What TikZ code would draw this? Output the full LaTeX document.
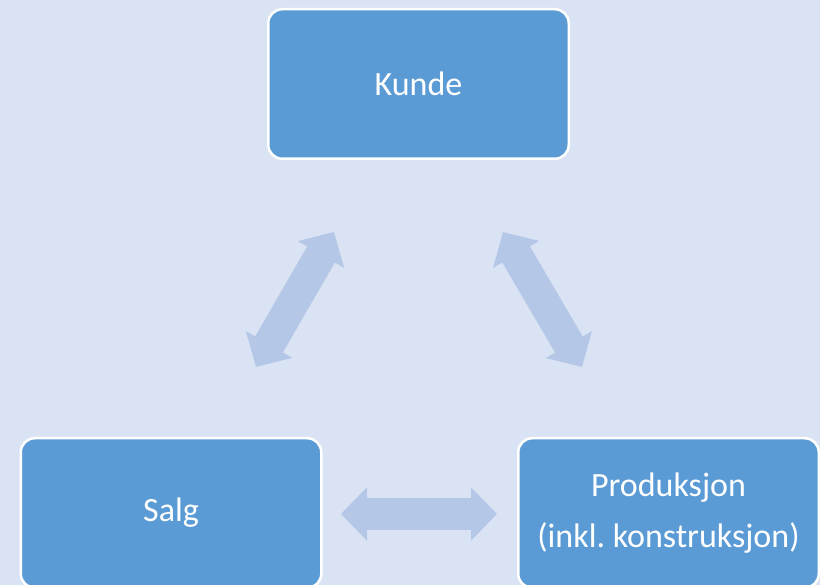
\documentclass[tikz,border=0pt]{standalone}
\usepackage{fontspec}
\setmainfont{Carlito}
\usetikzlibrary{arrows.meta}
\definecolor{bgc}{HTML}{DAE3F3}
\definecolor{boxc}{HTML}{5B9BD5}
\definecolor{arrc}{HTML}{B4C7E7}
\frenchspacing
\begin{document}
\begin{tikzpicture}[x=1pt,y=-1pt,
  box/.style={draw=white, line width=2.5pt, fill=boxc, rounded corners=14pt,
    minimum width=300.5pt, minimum height=149.5pt, inner sep=0pt,
    text=white, align=center, font=\fontsize{34}{51}\selectfont},
  blockarrow/.style={line width=32pt, draw=arrc,
    {Triangle[width=52pt,length=26pt]}-{Triangle[width=52pt,length=26pt]}}]
\useasboundingbox (0,0) rectangle (820,585);
\clip (0,0) rectangle (820,585);
\fill[bgc] (0,0) rectangle (820,585);
\node[box] (kunde) at (418.5,84) {Kunde};
\node[box] (salg) at (171,513) {Salg};
\node[box] (prod) at (668.5,513) {Produksjon\\(inkl.\ konstruksjon)};
\coordinate (l1) at (256,367);
\coordinate (l2) at (334,232);
\coordinate (r1) at (503,232);
\coordinate (r2) at (582,367);
\coordinate (b1) at (341,514);
\coordinate (b2) at (497,514);
\draw[blockarrow] (l1) -- (l2);
\draw[blockarrow] (r1) -- (r2);
\draw[blockarrow] (b1) -- (b2);
\end{tikzpicture}
\end{document}
